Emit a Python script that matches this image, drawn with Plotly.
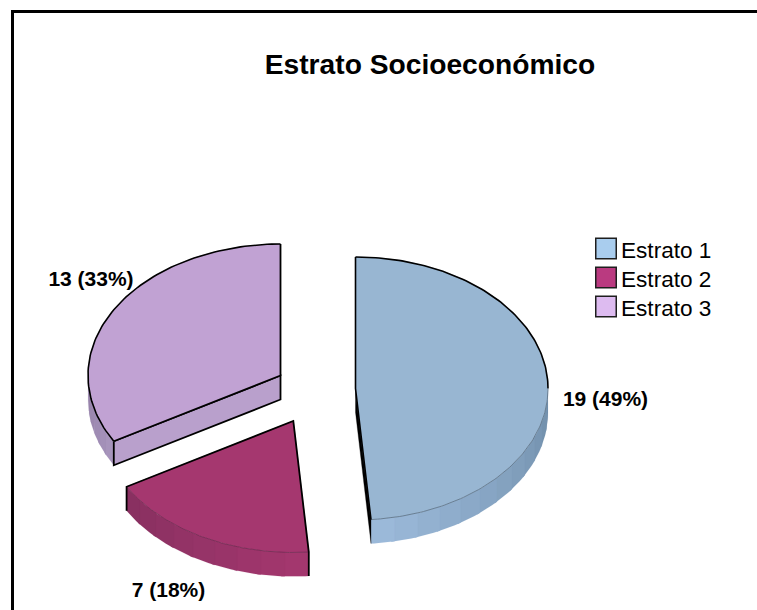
import math
import plotly.graph_objects as go

title = "Estrato Socioeconómico"
categories = ["Estrato 1", "Estrato 2", "Estrato 3"]
counts = [19, 7, 13]

top_colors = ["#98B6D2", "#A5376F", "#C1A2D3"]
legend_colors = ["#A9CDEE", "#BA3A80", "#DDBBF0"]
wall_dark = [(0x6E, 0x8C, 0xA8), (0x87, 0x30, 0x60), (0x92, 0x7E, 0xA6)]
wall_light = [(0x9D, 0xBB, 0xDB), (0xA5, 0x37, 0x6F), (0xA9, 0x96, 0xBE)]
cut_face_color = "#B9A0CC"

# drawing geometry of the tilted, exploded pie (pixels)
centres = [(355.5, 388.5), (293.3, 421), (280.5, 375.5)]
rx, ry, depth = 192.5, 131.5, 24
label_pos = [(605.5, 401), (168.5, 592), (91, 281)]
legend_swatch_y = [248.5, 277.5, 306.5]
legend_text_y = [252, 281, 310]

total = sum(counts)
spans, a = [], 0.0
for c in counts:
    spans.append((a, a + 360.0 * c / total))
    a += 360.0 * c / total


def pt(centre, deg, dy=0.0):
    r = math.radians(deg)
    return centre[0] + rx * math.sin(r), centre[1] - ry * math.cos(r) + dy


def arc(centre, a0, a1, dy=0.0, n=90):
    return [pt(centre, a0 + (a1 - a0) * i / n, dy) for i in range(n + 1)]


def poly(points, fill=None, line=None, width=1.0, closed=True):
    pts = list(points) + ([points[0]] if closed else [])
    return go.Scatter(
        x=[p[0] for p in pts], y=[p[1] for p in pts],
        mode="lines", fill="toself" if fill else "none",
        fillcolor=fill, hoverinfo="skip", showlegend=False,
        line=dict(color=line or fill or "black", width=width),
    )


fig = go.Figure()

for i, (a0, a1) in enumerate(spans):
    ctr = centres[i]
    # outer wall: only the part of the rim that faces the viewer
    w0, w1 = max(a0, 90.0), min(a1, 270.0)
    if w0 < w1:
        bands = max(6, int((w1 - w0) / 7))
        for b in range(bands):
            s0 = w0 + (w1 - w0) * b / bands
            s1 = w0 + (w1 - w0) * (b + 1) / bands
            if b < bands - 1:
                s1 += 1.0  # overlap the next band so no seam shows
            pos = (b + 0.5) / bands
            # darkest toward the sides of the pie, lightest toward the front
            t = pos if i == 0 else 1 - pos
            col = tuple(round(wall_dark[i][k] + (wall_light[i][k] - wall_dark[i][k]) * t) for k in range(3))
            hexc = "#%02X%02X%02X" % col
            fig.add_trace(poly(arc(ctr, s0, s1, 0, 8) + arc(ctr, s1, s0, depth, 8), fill=hexc, width=0.1))

# visible cut faces
c1, c3 = centres[0], centres[2]
e1 = pt(c1, spans[0][1])
fig.add_trace(poly([c1, e1, (e1[0], e1[1] + depth), (c1[0], c1[1] + depth)], fill="#000000", line="#000000", width=0.3))
s3 = pt(c3, spans[2][0])
fig.add_trace(poly([s3, c3, (c3[0], c3[1] + depth), (s3[0], s3[1] + depth)], fill=cut_face_color, line="#000000", width=1.8))

# top faces
for i, (a0, a1) in enumerate(spans):
    ctr = centres[i]
    fig.add_trace(poly([ctr] + arc(ctr, a0, a1), fill=top_colors[i], line=top_colors[i], width=0.5))

# outlines: slice 1
fig.add_trace(poly(arc(c1, spans[0][0], 90), line="#000000", width=1.6, closed=False))
fig.add_trace(poly(arc(c1, 90, spans[0][1]), line="#5A6E82", width=0.8, closed=False))
fig.add_trace(poly([pt(c1, 0), c1, e1], line="#000000", width=1.6, closed=False))
# outlines: slice 2
c2 = centres[1]
fig.add_trace(poly(arc(c2, spans[1][0], spans[1][1]), line="#6E2A50", width=0.8, closed=False))
p0, p1 = pt(c2, spans[1][0]), pt(c2, spans[1][1])
fig.add_trace(poly([(p0[0], p0[1] + depth), p0, c2, p1, (p1[0], p1[1] + depth)], line="#000000", width=1.8, closed=False))
# outlines: slice 3
fig.add_trace(poly(arc(c3, spans[2][0], 360), line="#000000", width=1.6, closed=False))
fig.add_trace(poly([pt(c3, 360), c3, s3], line="#000000", width=1.8, closed=False))

# value labels
for i, c in enumerate(counts):
    fig.add_trace(go.Scatter(
        x=[label_pos[i][0]], y=[label_pos[i][1]], mode="text",
        text=[f"{c} ({round(100 * c / total)}%)"], textposition="middle center",
        textfont=dict(family="Liberation Sans", size=21, color="black", weight="bold"),
        hoverinfo="skip", showlegend=False,
    ))

# legend
fig.add_trace(go.Scatter(
    x=[606, 606, 606], y=legend_swatch_y, mode="markers",
    marker=dict(symbol="square", size=20.5, color=legend_colors, line=dict(color="#1E1E1E", width=1.5)),
    hoverinfo="skip", showlegend=False, cliponaxis=False,
))
fig.add_trace(go.Scatter(
    x=[621, 621, 621], y=legend_text_y, mode="text",
    text=categories, textposition="middle right",
    textfont=dict(family="Liberation Sans", size=22.6, color="black"),
    hoverinfo="skip", showlegend=False, cliponaxis=False,
))

fig.update_layout(
    width=757, height=610, margin=dict(l=0, r=0, t=0, b=0),
    paper_bgcolor="white", plot_bgcolor="white", showlegend=False,
    title=dict(text=title, x=430 / 757, y=1 - 64.5 / 610, xanchor="center", yanchor="middle",
               font=dict(family="Liberation Sans", size=28.2, color="black", weight="bold")),
    xaxis=dict(range=[0, 757], visible=False, fixedrange=True),
    yaxis=dict(range=[610, 0], visible=False, fixedrange=True),
    shapes=[
        dict(type="line", xref="x", yref="y", x0=11, y0=11.5, x1=757, y1=11.5, line=dict(color="black", width=3)),
        dict(type="line", xref="x", yref="y", x0=12.5, y0=11, x1=12.5, y1=610, line=dict(color="black", width=3)),
    ],
)

fig.write_html("out.html", config=dict(displayModeBar=False), post_script="document.body.style.margin='0';")
